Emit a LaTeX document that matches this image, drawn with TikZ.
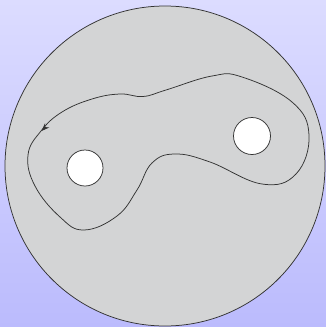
\documentclass[tikz,border=0pt]{standalone}
\usetikzlibrary{arrows.meta}
\definecolor{bgtop}{HTML}{DCDCFF}
\definecolor{bgbot}{HTML}{BBBBFD}
\definecolor{disk}{HTML}{D3D4D5}
\definecolor{ink}{HTML}{333333}
\tikzset{
  edge/.style={draw=ink, line width=0.75pt},
  hole/.style={circle, draw=ink, line width=0.75pt, fill=white, minimum size=36pt, inner sep=0pt},
  tip/.style={ink, line width=0.75pt, -{Stealth[length=8pt,width=6pt]}}
}
\begin{document}
\begin{tikzpicture}[x=1pt,y=-1pt]
  \useasboundingbox (0,0) rectangle (326,327);
  \shade[top color=bgtop, bottom color=bgbot] (0,0) rectangle (326,327);
  \node[circle, edge, fill=disk, minimum size=320pt, inner sep=0pt] (disk) at (165,166) {};
  \node[hole] (h1) at (85,168) {};
  \node[hole, minimum size=37pt] (h2) at (252,136) {};
  \draw[edge] plot[smooth cycle, tension=0.7] coordinates {
    (41,131) (28,155) (35,186) (60,217) (84,230) (117,216) (137,190)
    (152,163) (175,154) (210,162) (262,184) (296,174) (309,135)
    (292,102) (242,77) (212,76) (166,90) (143,96.5) (120,94) (92,99) (62,112)};
  \coordinate (a0) at (45,127.5);
  \coordinate (a1) at (41.5,131);
  \draw[tip] (a0) -- (a1);
\end{tikzpicture}
\end{document}
